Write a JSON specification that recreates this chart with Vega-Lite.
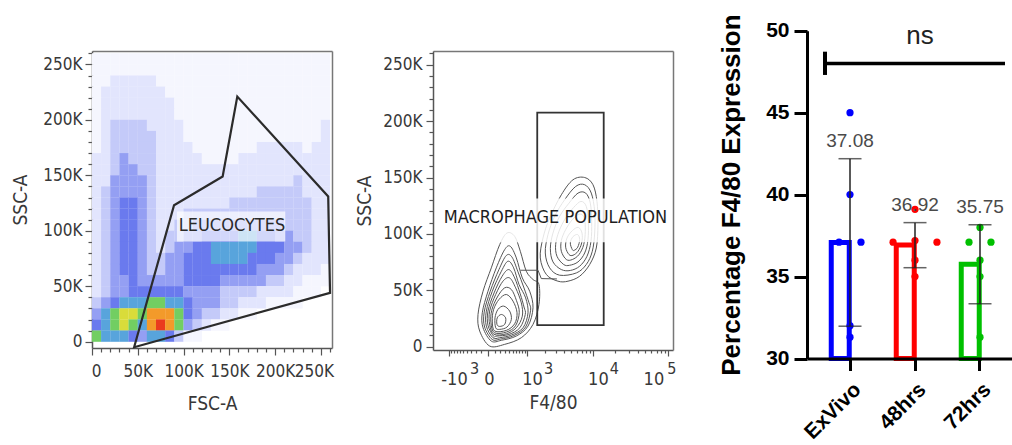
{
"$schema":"https://vega.github.io/schema/vega-lite/v6.json",
"width":1012,"height":445,"autosize":"none","padding":0,"background":"white",
"config":{"view":{"stroke":null},
 "axis":{"grid":false,"labelOverlap":false,"labelFlush":false,"labelBound":false,
  "labelFont":"Liberation Sans Narrow, DejaVu Sans Condensed, Liberation Sans","labelFontSize":17,"labelColor":"#383838",
  "titleFont":"Liberation Sans Narrow, DejaVu Sans Condensed, Liberation Sans","titleFontSize":19,"titleFontWeight":"normal","titleColor":"#383838",
  "domainColor":"#555555","domainWidth":1.5,"tickColor":"#555555","tickWidth":1.2}},
"resolve":{"scale":{"x":"independent","y":"independent","color":"independent"},"axis":{"x":"independent","y":"independent"}},
"layer":[
{
 "resolve":{"axis":{"x":"independent","y":"independent"}},
 "layer":[
  {
   "data":{"values":[
{"fsc":5,"ssc":255,"lvl":1},{"fsc":15,"ssc":255,"lvl":1},{"fsc":25,"ssc":255,"lvl":1},{"fsc":35,"ssc":255,"lvl":1},{"fsc":45,"ssc":255,"lvl":1},{"fsc":55,"ssc":255,"lvl":1},{"fsc":65,"ssc":255,"lvl":1},{"fsc":75,"ssc":255,"lvl":1},{"fsc":85,"ssc":255,"lvl":1},{"fsc":95,"ssc":255,"lvl":1},{"fsc":105,"ssc":255,"lvl":1},{"fsc":115,"ssc":255,"lvl":1},{"fsc":125,"ssc":255,"lvl":1},{"fsc":135,"ssc":255,"lvl":1},{"fsc":145,"ssc":255,"lvl":1},{"fsc":155,"ssc":255,"lvl":1},{"fsc":165,"ssc":255,"lvl":1},{"fsc":175,"ssc":255,"lvl":1},{"fsc":185,"ssc":255,"lvl":1},{"fsc":195,"ssc":255,"lvl":1},{"fsc":205,"ssc":255,"lvl":1},{"fsc":215,"ssc":255,"lvl":1},{"fsc":225,"ssc":255,"lvl":1},{"fsc":235,"ssc":255,"lvl":1},{"fsc":245,"ssc":255,"lvl":1},{"fsc":255,"ssc":255,"lvl":1},
{"fsc":5,"ssc":245,"lvl":1},{"fsc":15,"ssc":245,"lvl":1},{"fsc":25,"ssc":245,"lvl":1},{"fsc":35,"ssc":245,"lvl":1},{"fsc":45,"ssc":245,"lvl":1},{"fsc":55,"ssc":245,"lvl":1},{"fsc":65,"ssc":245,"lvl":1},{"fsc":75,"ssc":245,"lvl":1},{"fsc":85,"ssc":245,"lvl":1},{"fsc":95,"ssc":245,"lvl":1},{"fsc":105,"ssc":245,"lvl":1},{"fsc":115,"ssc":245,"lvl":1},{"fsc":125,"ssc":245,"lvl":1},{"fsc":135,"ssc":245,"lvl":1},{"fsc":145,"ssc":245,"lvl":1},{"fsc":155,"ssc":245,"lvl":1},{"fsc":165,"ssc":245,"lvl":1},{"fsc":175,"ssc":245,"lvl":1},{"fsc":185,"ssc":245,"lvl":1},{"fsc":195,"ssc":245,"lvl":1},{"fsc":205,"ssc":245,"lvl":1},{"fsc":215,"ssc":245,"lvl":1},{"fsc":225,"ssc":245,"lvl":1},{"fsc":235,"ssc":245,"lvl":1},{"fsc":245,"ssc":245,"lvl":1},{"fsc":255,"ssc":245,"lvl":1},
{"fsc":5,"ssc":235,"lvl":1},{"fsc":15,"ssc":235,"lvl":1},{"fsc":25,"ssc":235,"lvl":2},{"fsc":35,"ssc":235,"lvl":2},{"fsc":45,"ssc":235,"lvl":2},{"fsc":55,"ssc":235,"lvl":2},{"fsc":65,"ssc":235,"lvl":2},{"fsc":75,"ssc":235,"lvl":1},{"fsc":85,"ssc":235,"lvl":1},{"fsc":95,"ssc":235,"lvl":1},{"fsc":105,"ssc":235,"lvl":1},{"fsc":115,"ssc":235,"lvl":1},{"fsc":125,"ssc":235,"lvl":1},{"fsc":135,"ssc":235,"lvl":1},{"fsc":145,"ssc":235,"lvl":1},{"fsc":155,"ssc":235,"lvl":1},{"fsc":165,"ssc":235,"lvl":1},{"fsc":175,"ssc":235,"lvl":1},{"fsc":185,"ssc":235,"lvl":1},{"fsc":195,"ssc":235,"lvl":1},{"fsc":205,"ssc":235,"lvl":1},{"fsc":215,"ssc":235,"lvl":1},{"fsc":225,"ssc":235,"lvl":1},{"fsc":235,"ssc":235,"lvl":1},{"fsc":245,"ssc":235,"lvl":1},{"fsc":255,"ssc":235,"lvl":1},
{"fsc":5,"ssc":225,"lvl":1},{"fsc":15,"ssc":225,"lvl":2},{"fsc":25,"ssc":225,"lvl":2},{"fsc":35,"ssc":225,"lvl":2},{"fsc":45,"ssc":225,"lvl":2},{"fsc":55,"ssc":225,"lvl":2},{"fsc":65,"ssc":225,"lvl":2},{"fsc":75,"ssc":225,"lvl":2},{"fsc":85,"ssc":225,"lvl":1},{"fsc":95,"ssc":225,"lvl":1},{"fsc":105,"ssc":225,"lvl":1},{"fsc":115,"ssc":225,"lvl":1},{"fsc":125,"ssc":225,"lvl":1},{"fsc":135,"ssc":225,"lvl":1},{"fsc":145,"ssc":225,"lvl":1},{"fsc":155,"ssc":225,"lvl":1},{"fsc":165,"ssc":225,"lvl":1},{"fsc":175,"ssc":225,"lvl":1},{"fsc":185,"ssc":225,"lvl":1},{"fsc":195,"ssc":225,"lvl":1},{"fsc":205,"ssc":225,"lvl":1},{"fsc":215,"ssc":225,"lvl":1},{"fsc":225,"ssc":225,"lvl":1},{"fsc":235,"ssc":225,"lvl":1},{"fsc":245,"ssc":225,"lvl":1},{"fsc":255,"ssc":225,"lvl":1},
{"fsc":5,"ssc":215,"lvl":1},{"fsc":15,"ssc":215,"lvl":2},{"fsc":25,"ssc":215,"lvl":2},{"fsc":35,"ssc":215,"lvl":2},{"fsc":45,"ssc":215,"lvl":2},{"fsc":55,"ssc":215,"lvl":2},{"fsc":65,"ssc":215,"lvl":2},{"fsc":75,"ssc":215,"lvl":2},{"fsc":85,"ssc":215,"lvl":2},{"fsc":95,"ssc":215,"lvl":1},{"fsc":105,"ssc":215,"lvl":1},{"fsc":115,"ssc":215,"lvl":1},{"fsc":125,"ssc":215,"lvl":1},{"fsc":135,"ssc":215,"lvl":1},{"fsc":145,"ssc":215,"lvl":1},{"fsc":155,"ssc":215,"lvl":1},{"fsc":165,"ssc":215,"lvl":1},{"fsc":175,"ssc":215,"lvl":1},{"fsc":185,"ssc":215,"lvl":1},{"fsc":195,"ssc":215,"lvl":1},{"fsc":205,"ssc":215,"lvl":1},{"fsc":215,"ssc":215,"lvl":1},{"fsc":225,"ssc":215,"lvl":1},{"fsc":235,"ssc":215,"lvl":1},{"fsc":245,"ssc":215,"lvl":1},{"fsc":255,"ssc":215,"lvl":1},
{"fsc":5,"ssc":205,"lvl":1},{"fsc":15,"ssc":205,"lvl":2},{"fsc":25,"ssc":205,"lvl":2},{"fsc":35,"ssc":205,"lvl":2},{"fsc":45,"ssc":205,"lvl":2},{"fsc":55,"ssc":205,"lvl":2},{"fsc":65,"ssc":205,"lvl":2},{"fsc":75,"ssc":205,"lvl":2},{"fsc":85,"ssc":205,"lvl":2},{"fsc":95,"ssc":205,"lvl":1},{"fsc":105,"ssc":205,"lvl":1},{"fsc":115,"ssc":205,"lvl":1},{"fsc":125,"ssc":205,"lvl":1},{"fsc":135,"ssc":205,"lvl":1},{"fsc":145,"ssc":205,"lvl":1},{"fsc":155,"ssc":205,"lvl":1},{"fsc":165,"ssc":205,"lvl":1},{"fsc":175,"ssc":205,"lvl":1},{"fsc":185,"ssc":205,"lvl":1},{"fsc":195,"ssc":205,"lvl":1},{"fsc":205,"ssc":205,"lvl":1},{"fsc":215,"ssc":205,"lvl":1},{"fsc":225,"ssc":205,"lvl":1},{"fsc":235,"ssc":205,"lvl":1},{"fsc":245,"ssc":205,"lvl":1},{"fsc":255,"ssc":205,"lvl":1},
{"fsc":5,"ssc":195,"lvl":1},{"fsc":15,"ssc":195,"lvl":2},{"fsc":25,"ssc":195,"lvl":3},{"fsc":35,"ssc":195,"lvl":3},{"fsc":45,"ssc":195,"lvl":3},{"fsc":55,"ssc":195,"lvl":3},{"fsc":65,"ssc":195,"lvl":2},{"fsc":75,"ssc":195,"lvl":2},{"fsc":85,"ssc":195,"lvl":2},{"fsc":95,"ssc":195,"lvl":2},{"fsc":105,"ssc":195,"lvl":1},{"fsc":115,"ssc":195,"lvl":1},{"fsc":125,"ssc":195,"lvl":1},{"fsc":135,"ssc":195,"lvl":1},{"fsc":145,"ssc":195,"lvl":1},{"fsc":155,"ssc":195,"lvl":1},{"fsc":165,"ssc":195,"lvl":1},{"fsc":175,"ssc":195,"lvl":1},{"fsc":185,"ssc":195,"lvl":1},{"fsc":195,"ssc":195,"lvl":1},{"fsc":205,"ssc":195,"lvl":1},{"fsc":215,"ssc":195,"lvl":1},{"fsc":225,"ssc":195,"lvl":1},{"fsc":235,"ssc":195,"lvl":1},{"fsc":245,"ssc":195,"lvl":1},{"fsc":255,"ssc":195,"lvl":2},
{"fsc":5,"ssc":185,"lvl":1},{"fsc":15,"ssc":185,"lvl":2},{"fsc":25,"ssc":185,"lvl":3},{"fsc":35,"ssc":185,"lvl":3},{"fsc":45,"ssc":185,"lvl":3},{"fsc":55,"ssc":185,"lvl":3},{"fsc":65,"ssc":185,"lvl":3},{"fsc":75,"ssc":185,"lvl":2},{"fsc":85,"ssc":185,"lvl":2},{"fsc":95,"ssc":185,"lvl":2},{"fsc":105,"ssc":185,"lvl":1},{"fsc":115,"ssc":185,"lvl":1},{"fsc":125,"ssc":185,"lvl":1},{"fsc":135,"ssc":185,"lvl":1},{"fsc":145,"ssc":185,"lvl":1},{"fsc":155,"ssc":185,"lvl":1},{"fsc":165,"ssc":185,"lvl":1},{"fsc":175,"ssc":185,"lvl":1},{"fsc":185,"ssc":185,"lvl":1},{"fsc":195,"ssc":185,"lvl":1},{"fsc":205,"ssc":185,"lvl":1},{"fsc":215,"ssc":185,"lvl":1},{"fsc":225,"ssc":185,"lvl":1},{"fsc":235,"ssc":185,"lvl":1},{"fsc":245,"ssc":185,"lvl":1},{"fsc":255,"ssc":185,"lvl":2},
{"fsc":5,"ssc":175,"lvl":1},{"fsc":15,"ssc":175,"lvl":2},{"fsc":25,"ssc":175,"lvl":3},{"fsc":35,"ssc":175,"lvl":3},{"fsc":45,"ssc":175,"lvl":3},{"fsc":55,"ssc":175,"lvl":3},{"fsc":65,"ssc":175,"lvl":3},{"fsc":75,"ssc":175,"lvl":2},{"fsc":85,"ssc":175,"lvl":2},{"fsc":95,"ssc":175,"lvl":2},{"fsc":105,"ssc":175,"lvl":2},{"fsc":115,"ssc":175,"lvl":1},{"fsc":125,"ssc":175,"lvl":1},{"fsc":135,"ssc":175,"lvl":1},{"fsc":145,"ssc":175,"lvl":1},{"fsc":155,"ssc":175,"lvl":1},{"fsc":165,"ssc":175,"lvl":1},{"fsc":175,"ssc":175,"lvl":1},{"fsc":185,"ssc":175,"lvl":2},{"fsc":195,"ssc":175,"lvl":2},{"fsc":205,"ssc":175,"lvl":2},{"fsc":215,"ssc":175,"lvl":2},{"fsc":225,"ssc":175,"lvl":2},{"fsc":235,"ssc":175,"lvl":1},{"fsc":245,"ssc":175,"lvl":2},{"fsc":255,"ssc":175,"lvl":2},
{"fsc":5,"ssc":165,"lvl":2},{"fsc":15,"ssc":165,"lvl":2},{"fsc":25,"ssc":165,"lvl":3},{"fsc":35,"ssc":165,"lvl":4},{"fsc":45,"ssc":165,"lvl":3},{"fsc":55,"ssc":165,"lvl":3},{"fsc":65,"ssc":165,"lvl":3},{"fsc":75,"ssc":165,"lvl":2},{"fsc":85,"ssc":165,"lvl":2},{"fsc":95,"ssc":165,"lvl":2},{"fsc":105,"ssc":165,"lvl":2},{"fsc":115,"ssc":165,"lvl":2},{"fsc":125,"ssc":165,"lvl":1},{"fsc":135,"ssc":165,"lvl":1},{"fsc":145,"ssc":165,"lvl":1},{"fsc":155,"ssc":165,"lvl":1},{"fsc":165,"ssc":165,"lvl":2},{"fsc":175,"ssc":165,"lvl":2},{"fsc":185,"ssc":165,"lvl":2},{"fsc":195,"ssc":165,"lvl":2},{"fsc":205,"ssc":165,"lvl":2},{"fsc":215,"ssc":165,"lvl":2},{"fsc":225,"ssc":165,"lvl":2},{"fsc":235,"ssc":165,"lvl":2},{"fsc":245,"ssc":165,"lvl":2},{"fsc":255,"ssc":165,"lvl":2},
{"fsc":5,"ssc":155,"lvl":2},{"fsc":15,"ssc":155,"lvl":2},{"fsc":25,"ssc":155,"lvl":3},{"fsc":35,"ssc":155,"lvl":4},{"fsc":45,"ssc":155,"lvl":4},{"fsc":55,"ssc":155,"lvl":3},{"fsc":65,"ssc":155,"lvl":3},{"fsc":75,"ssc":155,"lvl":2},{"fsc":85,"ssc":155,"lvl":2},{"fsc":95,"ssc":155,"lvl":2},{"fsc":105,"ssc":155,"lvl":2},{"fsc":115,"ssc":155,"lvl":2},{"fsc":125,"ssc":155,"lvl":2},{"fsc":135,"ssc":155,"lvl":2},{"fsc":145,"ssc":155,"lvl":2},{"fsc":155,"ssc":155,"lvl":2},{"fsc":165,"ssc":155,"lvl":2},{"fsc":175,"ssc":155,"lvl":2},{"fsc":185,"ssc":155,"lvl":2},{"fsc":195,"ssc":155,"lvl":2},{"fsc":205,"ssc":155,"lvl":2},{"fsc":215,"ssc":155,"lvl":2},{"fsc":225,"ssc":155,"lvl":2},{"fsc":235,"ssc":155,"lvl":2},{"fsc":245,"ssc":155,"lvl":2},{"fsc":255,"ssc":155,"lvl":2},
{"fsc":5,"ssc":145,"lvl":2},{"fsc":15,"ssc":145,"lvl":2},{"fsc":25,"ssc":145,"lvl":4},{"fsc":35,"ssc":145,"lvl":4},{"fsc":45,"ssc":145,"lvl":4},{"fsc":55,"ssc":145,"lvl":4},{"fsc":65,"ssc":145,"lvl":3},{"fsc":75,"ssc":145,"lvl":2},{"fsc":85,"ssc":145,"lvl":2},{"fsc":95,"ssc":145,"lvl":2},{"fsc":105,"ssc":145,"lvl":2},{"fsc":115,"ssc":145,"lvl":2},{"fsc":125,"ssc":145,"lvl":2},{"fsc":135,"ssc":145,"lvl":2},{"fsc":145,"ssc":145,"lvl":2},{"fsc":155,"ssc":145,"lvl":2},{"fsc":165,"ssc":145,"lvl":2},{"fsc":175,"ssc":145,"lvl":2},{"fsc":185,"ssc":145,"lvl":2},{"fsc":195,"ssc":145,"lvl":2},{"fsc":205,"ssc":145,"lvl":2},{"fsc":215,"ssc":145,"lvl":2},{"fsc":225,"ssc":145,"lvl":3},{"fsc":235,"ssc":145,"lvl":2},{"fsc":245,"ssc":145,"lvl":2},{"fsc":255,"ssc":145,"lvl":2},
{"fsc":5,"ssc":135,"lvl":2},{"fsc":15,"ssc":135,"lvl":3},{"fsc":25,"ssc":135,"lvl":4},{"fsc":35,"ssc":135,"lvl":4},{"fsc":45,"ssc":135,"lvl":4},{"fsc":55,"ssc":135,"lvl":4},{"fsc":65,"ssc":135,"lvl":3},{"fsc":75,"ssc":135,"lvl":2},{"fsc":85,"ssc":135,"lvl":2},{"fsc":95,"ssc":135,"lvl":2},{"fsc":105,"ssc":135,"lvl":2},{"fsc":115,"ssc":135,"lvl":2},{"fsc":125,"ssc":135,"lvl":2},{"fsc":135,"ssc":135,"lvl":2},{"fsc":145,"ssc":135,"lvl":2},{"fsc":155,"ssc":135,"lvl":2},{"fsc":165,"ssc":135,"lvl":2},{"fsc":175,"ssc":135,"lvl":2},{"fsc":185,"ssc":135,"lvl":3},{"fsc":195,"ssc":135,"lvl":3},{"fsc":205,"ssc":135,"lvl":3},{"fsc":215,"ssc":135,"lvl":3},{"fsc":225,"ssc":135,"lvl":3},{"fsc":235,"ssc":135,"lvl":2},{"fsc":245,"ssc":135,"lvl":2},{"fsc":255,"ssc":135,"lvl":2},
{"fsc":5,"ssc":125,"lvl":2},{"fsc":15,"ssc":125,"lvl":3},{"fsc":25,"ssc":125,"lvl":4},{"fsc":35,"ssc":125,"lvl":5},{"fsc":45,"ssc":125,"lvl":5},{"fsc":55,"ssc":125,"lvl":4},{"fsc":65,"ssc":125,"lvl":3},{"fsc":75,"ssc":125,"lvl":2},{"fsc":85,"ssc":125,"lvl":2},{"fsc":95,"ssc":125,"lvl":2},{"fsc":105,"ssc":125,"lvl":2},{"fsc":115,"ssc":125,"lvl":2},{"fsc":125,"ssc":125,"lvl":2},{"fsc":135,"ssc":125,"lvl":2},{"fsc":145,"ssc":125,"lvl":2},{"fsc":155,"ssc":125,"lvl":3},{"fsc":165,"ssc":125,"lvl":3},{"fsc":175,"ssc":125,"lvl":3},{"fsc":185,"ssc":125,"lvl":3},{"fsc":195,"ssc":125,"lvl":3},{"fsc":205,"ssc":125,"lvl":3},{"fsc":215,"ssc":125,"lvl":3},{"fsc":225,"ssc":125,"lvl":3},{"fsc":235,"ssc":125,"lvl":3},{"fsc":245,"ssc":125,"lvl":2},{"fsc":255,"ssc":125,"lvl":2},
{"fsc":5,"ssc":115,"lvl":2},{"fsc":15,"ssc":115,"lvl":3},{"fsc":25,"ssc":115,"lvl":4},{"fsc":35,"ssc":115,"lvl":5},{"fsc":45,"ssc":115,"lvl":5},{"fsc":55,"ssc":115,"lvl":4},{"fsc":65,"ssc":115,"lvl":3},{"fsc":75,"ssc":115,"lvl":2},{"fsc":85,"ssc":115,"lvl":2},{"fsc":95,"ssc":115,"lvl":2},{"fsc":105,"ssc":115,"lvl":3},{"fsc":115,"ssc":115,"lvl":3},{"fsc":125,"ssc":115,"lvl":3},{"fsc":135,"ssc":115,"lvl":3},{"fsc":145,"ssc":115,"lvl":3},{"fsc":155,"ssc":115,"lvl":3},{"fsc":165,"ssc":115,"lvl":3},{"fsc":175,"ssc":115,"lvl":3},{"fsc":185,"ssc":115,"lvl":3},{"fsc":195,"ssc":115,"lvl":3},{"fsc":205,"ssc":115,"lvl":3},{"fsc":215,"ssc":115,"lvl":3},{"fsc":225,"ssc":115,"lvl":3},{"fsc":235,"ssc":115,"lvl":3},{"fsc":245,"ssc":115,"lvl":2},{"fsc":255,"ssc":115,"lvl":2},
{"fsc":5,"ssc":105,"lvl":2},{"fsc":15,"ssc":105,"lvl":3},{"fsc":25,"ssc":105,"lvl":4},{"fsc":35,"ssc":105,"lvl":5},{"fsc":45,"ssc":105,"lvl":5},{"fsc":55,"ssc":105,"lvl":4},{"fsc":65,"ssc":105,"lvl":3},{"fsc":75,"ssc":105,"lvl":2},{"fsc":85,"ssc":105,"lvl":2},{"fsc":95,"ssc":105,"lvl":3},{"fsc":105,"ssc":105,"lvl":3},{"fsc":115,"ssc":105,"lvl":4},{"fsc":125,"ssc":105,"lvl":4},{"fsc":135,"ssc":105,"lvl":4},{"fsc":145,"ssc":105,"lvl":4},{"fsc":155,"ssc":105,"lvl":4},{"fsc":165,"ssc":105,"lvl":4},{"fsc":175,"ssc":105,"lvl":4},{"fsc":185,"ssc":105,"lvl":4},{"fsc":195,"ssc":105,"lvl":4},{"fsc":205,"ssc":105,"lvl":4},{"fsc":215,"ssc":105,"lvl":3},{"fsc":225,"ssc":105,"lvl":3},{"fsc":235,"ssc":105,"lvl":3},{"fsc":245,"ssc":105,"lvl":2},{"fsc":255,"ssc":105,"lvl":2},
{"fsc":5,"ssc":95,"lvl":2},{"fsc":15,"ssc":95,"lvl":3},{"fsc":25,"ssc":95,"lvl":4},{"fsc":35,"ssc":95,"lvl":5},{"fsc":45,"ssc":95,"lvl":5},{"fsc":55,"ssc":95,"lvl":4},{"fsc":65,"ssc":95,"lvl":3},{"fsc":75,"ssc":95,"lvl":2},{"fsc":85,"ssc":95,"lvl":3},{"fsc":95,"ssc":95,"lvl":3},{"fsc":105,"ssc":95,"lvl":4},{"fsc":115,"ssc":95,"lvl":4},{"fsc":125,"ssc":95,"lvl":5},{"fsc":135,"ssc":95,"lvl":5},{"fsc":145,"ssc":95,"lvl":5},{"fsc":155,"ssc":95,"lvl":5},{"fsc":165,"ssc":95,"lvl":6},{"fsc":175,"ssc":95,"lvl":6},{"fsc":185,"ssc":95,"lvl":5},{"fsc":195,"ssc":95,"lvl":5},{"fsc":205,"ssc":95,"lvl":4},{"fsc":215,"ssc":95,"lvl":4},{"fsc":225,"ssc":95,"lvl":3},{"fsc":235,"ssc":95,"lvl":3},{"fsc":245,"ssc":95,"lvl":2},{"fsc":255,"ssc":95,"lvl":2},
{"fsc":5,"ssc":85,"lvl":2},{"fsc":15,"ssc":85,"lvl":3},{"fsc":25,"ssc":85,"lvl":4},{"fsc":35,"ssc":85,"lvl":5},{"fsc":45,"ssc":85,"lvl":5},{"fsc":55,"ssc":85,"lvl":4},{"fsc":65,"ssc":85,"lvl":3},{"fsc":75,"ssc":85,"lvl":2},{"fsc":85,"ssc":85,"lvl":3},{"fsc":95,"ssc":85,"lvl":4},{"fsc":105,"ssc":85,"lvl":4},{"fsc":115,"ssc":85,"lvl":5},{"fsc":125,"ssc":85,"lvl":5},{"fsc":135,"ssc":85,"lvl":6},{"fsc":145,"ssc":85,"lvl":6},{"fsc":155,"ssc":85,"lvl":6},{"fsc":165,"ssc":85,"lvl":6},{"fsc":175,"ssc":85,"lvl":6},{"fsc":185,"ssc":85,"lvl":5},{"fsc":195,"ssc":85,"lvl":5},{"fsc":205,"ssc":85,"lvl":5},{"fsc":215,"ssc":85,"lvl":4},{"fsc":225,"ssc":85,"lvl":4},{"fsc":235,"ssc":85,"lvl":3},{"fsc":245,"ssc":85,"lvl":2},{"fsc":255,"ssc":85,"lvl":2},
{"fsc":5,"ssc":75,"lvl":2},{"fsc":15,"ssc":75,"lvl":3},{"fsc":25,"ssc":75,"lvl":4},{"fsc":35,"ssc":75,"lvl":5},{"fsc":45,"ssc":75,"lvl":5},{"fsc":55,"ssc":75,"lvl":4},{"fsc":65,"ssc":75,"lvl":3},{"fsc":75,"ssc":75,"lvl":3},{"fsc":85,"ssc":75,"lvl":4},{"fsc":95,"ssc":75,"lvl":4},{"fsc":105,"ssc":75,"lvl":5},{"fsc":115,"ssc":75,"lvl":5},{"fsc":125,"ssc":75,"lvl":5},{"fsc":135,"ssc":75,"lvl":6},{"fsc":145,"ssc":75,"lvl":6},{"fsc":155,"ssc":75,"lvl":6},{"fsc":165,"ssc":75,"lvl":6},{"fsc":175,"ssc":75,"lvl":5},{"fsc":185,"ssc":75,"lvl":5},{"fsc":195,"ssc":75,"lvl":5},{"fsc":205,"ssc":75,"lvl":4},{"fsc":215,"ssc":75,"lvl":4},{"fsc":225,"ssc":75,"lvl":3},{"fsc":235,"ssc":75,"lvl":2},{"fsc":245,"ssc":75,"lvl":2},{"fsc":255,"ssc":75,"lvl":2},
{"fsc":5,"ssc":65,"lvl":2},{"fsc":15,"ssc":65,"lvl":3},{"fsc":25,"ssc":65,"lvl":4},{"fsc":35,"ssc":65,"lvl":5},{"fsc":45,"ssc":65,"lvl":5},{"fsc":55,"ssc":65,"lvl":4},{"fsc":65,"ssc":65,"lvl":3},{"fsc":75,"ssc":65,"lvl":3},{"fsc":85,"ssc":65,"lvl":4},{"fsc":95,"ssc":65,"lvl":4},{"fsc":105,"ssc":65,"lvl":5},{"fsc":115,"ssc":65,"lvl":5},{"fsc":125,"ssc":65,"lvl":5},{"fsc":135,"ssc":65,"lvl":5},{"fsc":145,"ssc":65,"lvl":5},{"fsc":155,"ssc":65,"lvl":5},{"fsc":165,"ssc":65,"lvl":5},{"fsc":175,"ssc":65,"lvl":5},{"fsc":185,"ssc":65,"lvl":4},{"fsc":195,"ssc":65,"lvl":4},{"fsc":205,"ssc":65,"lvl":4},{"fsc":215,"ssc":65,"lvl":3},{"fsc":225,"ssc":65,"lvl":2},{"fsc":235,"ssc":65,"lvl":2},{"fsc":245,"ssc":65,"lvl":2},{"fsc":255,"ssc":65,"lvl":1},
{"fsc":5,"ssc":55,"lvl":2},{"fsc":15,"ssc":55,"lvl":3},{"fsc":25,"ssc":55,"lvl":4},{"fsc":35,"ssc":55,"lvl":4},{"fsc":45,"ssc":55,"lvl":5},{"fsc":55,"ssc":55,"lvl":4},{"fsc":65,"ssc":55,"lvl":4},{"fsc":75,"ssc":55,"lvl":4},{"fsc":85,"ssc":55,"lvl":4},{"fsc":95,"ssc":55,"lvl":4},{"fsc":105,"ssc":55,"lvl":5},{"fsc":115,"ssc":55,"lvl":5},{"fsc":125,"ssc":55,"lvl":5},{"fsc":135,"ssc":55,"lvl":5},{"fsc":145,"ssc":55,"lvl":4},{"fsc":155,"ssc":55,"lvl":4},{"fsc":165,"ssc":55,"lvl":4},{"fsc":175,"ssc":55,"lvl":4},{"fsc":185,"ssc":55,"lvl":4},{"fsc":195,"ssc":55,"lvl":3},{"fsc":205,"ssc":55,"lvl":3},{"fsc":215,"ssc":55,"lvl":2},{"fsc":225,"ssc":55,"lvl":2},{"fsc":235,"ssc":55,"lvl":1},{"fsc":245,"ssc":55,"lvl":1},{"fsc":255,"ssc":55,"lvl":1},
{"fsc":5,"ssc":45,"lvl":2},{"fsc":15,"ssc":45,"lvl":3},{"fsc":25,"ssc":45,"lvl":4},{"fsc":35,"ssc":45,"lvl":4},{"fsc":45,"ssc":45,"lvl":5},{"fsc":55,"ssc":45,"lvl":5},{"fsc":65,"ssc":45,"lvl":5},{"fsc":75,"ssc":45,"lvl":5},{"fsc":85,"ssc":45,"lvl":5},{"fsc":95,"ssc":45,"lvl":5},{"fsc":105,"ssc":45,"lvl":4},{"fsc":115,"ssc":45,"lvl":4},{"fsc":125,"ssc":45,"lvl":4},{"fsc":135,"ssc":45,"lvl":4},{"fsc":145,"ssc":45,"lvl":3},{"fsc":155,"ssc":45,"lvl":3},{"fsc":165,"ssc":45,"lvl":3},{"fsc":175,"ssc":45,"lvl":3},{"fsc":185,"ssc":45,"lvl":2},{"fsc":195,"ssc":45,"lvl":2},{"fsc":205,"ssc":45,"lvl":2},{"fsc":215,"ssc":45,"lvl":2},{"fsc":225,"ssc":45,"lvl":1},{"fsc":235,"ssc":45,"lvl":1},{"fsc":245,"ssc":45,"lvl":1},
{"fsc":5,"ssc":35,"lvl":3},{"fsc":15,"ssc":35,"lvl":4},{"fsc":25,"ssc":35,"lvl":5},{"fsc":35,"ssc":35,"lvl":6},{"fsc":45,"ssc":35,"lvl":6},{"fsc":55,"ssc":35,"lvl":6},{"fsc":65,"ssc":35,"lvl":7},{"fsc":75,"ssc":35,"lvl":7},{"fsc":85,"ssc":35,"lvl":6},{"fsc":95,"ssc":35,"lvl":6},{"fsc":105,"ssc":35,"lvl":5},{"fsc":115,"ssc":35,"lvl":4},{"fsc":125,"ssc":35,"lvl":4},{"fsc":135,"ssc":35,"lvl":4},{"fsc":145,"ssc":35,"lvl":3},{"fsc":155,"ssc":35,"lvl":3},{"fsc":165,"ssc":35,"lvl":2},{"fsc":175,"ssc":35,"lvl":2},{"fsc":185,"ssc":35,"lvl":2},{"fsc":195,"ssc":35,"lvl":1},{"fsc":205,"ssc":35,"lvl":1},{"fsc":215,"ssc":35,"lvl":1},{"fsc":225,"ssc":35,"lvl":1},
{"fsc":5,"ssc":25,"lvl":4},{"fsc":15,"ssc":25,"lvl":6},{"fsc":25,"ssc":25,"lvl":7},{"fsc":35,"ssc":25,"lvl":8},{"fsc":45,"ssc":25,"lvl":8},{"fsc":55,"ssc":25,"lvl":7},{"fsc":65,"ssc":25,"lvl":9},{"fsc":75,"ssc":25,"lvl":9},{"fsc":85,"ssc":25,"lvl":9},{"fsc":95,"ssc":25,"lvl":7},{"fsc":105,"ssc":25,"lvl":5},{"fsc":115,"ssc":25,"lvl":4},{"fsc":125,"ssc":25,"lvl":3},{"fsc":135,"ssc":25,"lvl":3},{"fsc":145,"ssc":25,"lvl":2},{"fsc":155,"ssc":25,"lvl":2},{"fsc":165,"ssc":25,"lvl":1},{"fsc":175,"ssc":25,"lvl":1},
{"fsc":5,"ssc":15,"lvl":5},{"fsc":15,"ssc":15,"lvl":6},{"fsc":25,"ssc":15,"lvl":7},{"fsc":35,"ssc":15,"lvl":8},{"fsc":45,"ssc":15,"lvl":7},{"fsc":55,"ssc":15,"lvl":6},{"fsc":65,"ssc":15,"lvl":9},{"fsc":75,"ssc":15,"lvl":10},{"fsc":85,"ssc":15,"lvl":9},{"fsc":95,"ssc":15,"lvl":7},{"fsc":105,"ssc":15,"lvl":4},{"fsc":115,"ssc":15,"lvl":3},{"fsc":125,"ssc":15,"lvl":2},{"fsc":135,"ssc":15,"lvl":1},{"fsc":145,"ssc":15,"lvl":1},
{"fsc":5,"ssc":5,"lvl":7},{"fsc":15,"ssc":5,"lvl":6},{"fsc":25,"ssc":5,"lvl":6},{"fsc":35,"ssc":5,"lvl":6},{"fsc":45,"ssc":5,"lvl":5},{"fsc":55,"ssc":5,"lvl":4},{"fsc":65,"ssc":5,"lvl":6},{"fsc":75,"ssc":5,"lvl":6},{"fsc":85,"ssc":5,"lvl":5},{"fsc":95,"ssc":5,"lvl":3},{"fsc":105,"ssc":5,"lvl":1},{"fsc":115,"ssc":5,"lvl":1}
   ]},
   "mark":{"type":"point","filled":true,"opacity":1,"strokeWidth":0,"size":87,"shape":"M-1,-1.214H1V1.214H-1Z"},
   "encoding":{
    "x":{"field":"fsc","type":"quantitative","scale":{"domain":[0,262.144],"range":[92,332],"nice":false,"zero":false},
      "axis":{"orient":"bottom","offset":-97,"values":[0,50,100,150,200,250],"tickSize":7,"labelPadding":8,"labelExpr":"datum.value == 0 ? '0' : datum.value + 'K'","labelOffset":{"condition":[{"test":"datum.value == 250","value":-7},{"test":"datum.value == 0","value":4}],"value":0},"title":"FSC-A","titlePadding":15}},
    "y":{"field":"ssc","type":"quantitative","scale":{"domain":[-5.7,262.144],"range":[348,51],"nice":false,"zero":false},
      "axis":{"orient":"left","offset":-92,"values":[0,50,100,150,200,250],"tickSize":7,"labelPadding":3,"labelExpr":"datum.value == 0 ? '0' : datum.value + 'K'","title":"SSC-A","titlePadding":12}},
    "color":{"field":"lvl","type":"ordinal","scale":{"domain":[1,2,3,4,5,6,7,8,9,10],"range":["#f5f6fe","#e2e5fd","#c4caf9","#949ff3","#6a7aee","#58a4dc","#72ce62","#d9dc3a","#f39a2a","#ea3b1e"]},"legend":null}
   }
  },
  {
   "data":{"values":[{"vertex":0,"fsc":46,"ssc":-5},{"vertex":1,"fsc":89.6,"ssc":123},{"vertex":2,"fsc":142.7,"ssc":149},{"vertex":3,"fsc":158.7,"ssc":221},{"vertex":4,"fsc":258,"ssc":131},{"vertex":5,"fsc":260,"ssc":44}]},
   "mark":{"type":"line","interpolate":"linear-closed","color":"#2b2b2b","strokeWidth":2.2},
   "encoding":{
    "x":{"field":"fsc","type":"quantitative","axis":{"orient":"bottom","offset":-97,"values":[10,20,30,40,60,70,80,90,110,120,130,140,160,170,180,190,210,220,230,240,260],"tickSize":4,"labels":false,"domain":false,"title":null}},
    "y":{"field":"ssc","type":"quantitative","axis":{"orient":"left","offset":-92,"values":[10,20,30,40,60,70,80,90,110,120,130,140,160,170,180,190,210,220,230,240,260],"tickSize":4,"labels":false,"domain":false,"title":null}},
    "order":{"field":"vertex"}
   }
  },
  {
   "data":{"values":[{}]},
   "mark":{"type":"rect","fill":"#ffffff","opacity":0.7},
   "encoding":{
    "x":{"datum":92.8,"type":"quantitative","axis":{"orient":"top","offset":-51,"ticks":false,"labels":false,"title":null,"domainColor":"#777777"}},
    "x2":{"datum":211.1},
    "y":{"datum":117.4,"type":"quantitative","axis":{"orient":"right","offset":-680,"ticks":false,"labels":false,"title":null,"domainColor":"#777777"}},
    "y2":{"datum":90.4}
   }
  },
  {
   "data":{"values":[{}]},
   "mark":{"type":"text","text":"LEUCOCYTES","font":"Liberation Sans Narrow, DejaVu Sans Condensed, Liberation Sans","fontSize":18,"color":"#2a2a2a","align":"center","baseline":"middle"},
   "encoding":{
    "x":{"datum":152.9,"type":"quantitative","axis":null},
    "y":{"datum":104.1,"type":"quantitative","axis":null}
   }
  }
 ]
},
{
 "resolve":{"axis":{"x":"independent","y":"independent"}},
 "layer":[
  {
   "data":{"values":[
{"ring":"A1","k":0,"f480":23,"ssc":0.6},{"ring":"A1","k":1,"f480":-127,"ssc":13.9},{"ring":"A1","k":2,"f480":-157,"ssc":28.6},{"ring":"A1","k":3,"f480":-72,"ssc":49.2},{"ring":"A1","k":4,"f480":47,"ssc":69.9},{"ring":"A1","k":5,"f480":189,"ssc":90.5},{"ring":"A1","k":6,"f480":345,"ssc":100.8},{"ring":"A1","k":7,"f480":550,"ssc":97.9},{"ring":"A1","k":8,"f480":736,"ssc":84.6},{"ring":"A1","k":9,"f480":970,"ssc":66.9},{"ring":"A1","k":10,"f480":1285,"ssc":59.6},{"ring":"A1","k":11,"f480":1626,"ssc":55.2},{"ring":"A1","k":12,"f480":1626,"ssc":37.5},{"ring":"A1","k":13,"f480":1285,"ssc":19.8},{"ring":"A1","k":14,"f480":772,"ssc":8.0},{"ring":"A1","k":15,"f480":292,"ssc":2.1},
{"ring":"A2","k":0,"f480":47,"ssc":5.0},{"ring":"A2","k":1,"f480":-72,"ssc":16.8},{"ring":"A2","k":2,"f480":-84,"ssc":30.1},{"ring":"A2","k":3,"f480":0,"ssc":49.2},{"ring":"A2","k":4,"f480":127,"ssc":69.9},{"ring":"A2","k":5,"f480":292,"ssc":86.1},{"ring":"A2","k":6,"f480":429,"ssc":89.0},{"ring":"A2","k":7,"f480":603,"ssc":78.7},{"ring":"A2","k":8,"f480":809,"ssc":61.0},{"ring":"A2","k":9,"f480":1121,"ssc":49.2},{"ring":"A2","k":10,"f480":1285,"ssc":34.5},{"ring":"A2","k":11,"f480":1044,"ssc":18.3},{"ring":"A2","k":12,"f480":603,"ssc":9.5},{"ring":"A2","k":13,"f480":222,"ssc":5.7},
{"ring":"A2b","k":0,"f480":60,"ssc":6.5},{"ring":"A2b","k":1,"f480":-48,"ssc":17.5},{"ring":"A2b","k":2,"f480":-54,"ssc":30.8},{"ring":"A2b","k":3,"f480":31,"ssc":49.2},{"ring":"A2b","k":4,"f480":175,"ssc":68.4},{"ring":"A2b","k":5,"f480":330,"ssc":80.9},{"ring":"A2b","k":6,"f480":475,"ssc":79.4},{"ring":"A2b","k":7,"f480":647,"ssc":67.0},{"ring":"A2b","k":8,"f480":875,"ssc":52.1},{"ring":"A2b","k":9,"f480":1083,"ssc":39.3},{"ring":"A2b","k":10,"f480":1164,"ssc":32.3},{"ring":"A2b","k":11,"f480":940,"ssc":17.5},{"ring":"A2b","k":12,"f480":530,"ssc":9.9},{"ring":"A2b","k":13,"f480":205,"ssc":6.8},
{"ring":"A3","k":0,"f480":72,"ssc":8.0},{"ring":"A3","k":1,"f480":-23,"ssc":18.3},{"ring":"A3","k":2,"f480":-23,"ssc":31.6},{"ring":"A3","k":3,"f480":62,"ssc":49.2},{"ring":"A3","k":4,"f480":222,"ssc":66.9},{"ring":"A3","k":5,"f480":369,"ssc":75.8},{"ring":"A3","k":6,"f480":521,"ssc":69.9},{"ring":"A3","k":7,"f480":691,"ssc":55.2},{"ring":"A3","k":8,"f480":941,"ssc":43.3},{"ring":"A3","k":9,"f480":1044,"ssc":30.1},{"ring":"A3","k":10,"f480":836,"ssc":16.8},{"ring":"A3","k":11,"f480":456,"ssc":10.3},{"ring":"A3","k":12,"f480":189,"ssc":8.0},
{"ring":"A3b","k":0,"f480":80,"ssc":9.5},{"ring":"A3b","k":1,"f480":0,"ssc":19.0},{"ring":"A3b","k":2,"f480":0,"ssc":31.6},{"ring":"A3b","k":3,"f480":90,"ssc":47.7},{"ring":"A3b","k":4,"f480":238,"ssc":62.5},{"ring":"A3b","k":5,"f480":390,"ssc":68.4},{"ring":"A3b","k":6,"f480":551,"ssc":61.0},{"ring":"A3b","k":7,"f480":731,"ssc":47.0},{"ring":"A3b","k":8,"f480":875,"ssc":35.2},{"ring":"A3b","k":9,"f480":926,"ssc":28.6},{"ring":"A3b","k":10,"f480":720,"ssc":16.8},{"ring":"A3b","k":11,"f480":393,"ssc":10.9},{"ring":"A3b","k":12,"f480":139,"ssc":9.5},
{"ring":"A4","k":0,"f480":89,"ssc":11.0},{"ring":"A4","k":1,"f480":23,"ssc":19.8},{"ring":"A4","k":2,"f480":23,"ssc":31.6},{"ring":"A4","k":3,"f480":117,"ssc":46.3},{"ring":"A4","k":4,"f480":255,"ssc":58.1},{"ring":"A4","k":5,"f480":411,"ssc":61.0},{"ring":"A4","k":6,"f480":581,"ssc":52.2},{"ring":"A4","k":7,"f480":772,"ssc":38.9},{"ring":"A4","k":8,"f480":809,"ssc":27.1},{"ring":"A4","k":9,"f480":603,"ssc":16.8},{"ring":"A4","k":10,"f480":330,"ssc":11.5},
{"ring":"A4b","k":0,"f480":95,"ssc":12.4},{"ring":"A4b","k":1,"f480":42,"ssc":21.2},{"ring":"A4b","k":2,"f480":53,"ssc":32.3},{"ring":"A4b","k":3,"f480":146,"ssc":44.1},{"ring":"A4b","k":4,"f480":292,"ssc":52.2},{"ring":"A4b","k":5,"f480":457,"ssc":50.7},{"ring":"A4b","k":6,"f480":603,"ssc":41.2},{"ring":"A4b","k":7,"f480":699,"ssc":30.5},{"ring":"A4b","k":8,"f480":576,"ssc":18.5},{"ring":"A4b","k":9,"f480":330,"ssc":13.0},
{"ring":"A5","k":0,"f480":100,"ssc":13.9},{"ring":"A5","k":1,"f480":62,"ssc":22.7},{"ring":"A5","k":2,"f480":83,"ssc":33.1},{"ring":"A5","k":3,"f480":176,"ssc":41.9},{"ring":"A5","k":4,"f480":330,"ssc":46.3},{"ring":"A5","k":5,"f480":503,"ssc":40.4},{"ring":"A5","k":6,"f480":625,"ssc":30.1},{"ring":"A5","k":7,"f480":550,"ssc":20.3},{"ring":"A5","k":8,"f480":330,"ssc":14.5},
{"ring":"A6","k":0,"f480":117,"ssc":16.8},{"ring":"A6","k":1,"f480":105,"ssc":25.6},{"ring":"A6","k":2,"f480":157,"ssc":33.1},{"ring":"A6","k":3,"f480":270,"ssc":36.0},{"ring":"A6","k":4,"f480":411,"ssc":31.6},{"ring":"A6","k":5,"f480":456,"ssc":24.2},{"ring":"A6","k":6,"f480":345,"ssc":17.4},{"ring":"A6","k":7,"f480":189,"ssc":15.4},
{"ring":"A7","k":0,"f480":139,"ssc":19.8},{"ring":"A7","k":1,"f480":144,"ssc":25.6},{"ring":"A7","k":2,"f480":222,"ssc":28.6},{"ring":"A7","k":3,"f480":314,"ssc":25.6},{"ring":"A7","k":4,"f480":292,"ssc":19.8},{"ring":"A7","k":5,"f480":189,"ssc":18.0},
{"ring":"B1","k":0,"f480":3216,"ssc":58.1},{"ring":"B1","k":1,"f480":2139,"ssc":64.0},{"ring":"B1","k":2,"f480":1709,"ssc":78.7},{"ring":"B1","k":3,"f480":1890,"ssc":96.4},{"ring":"B1","k":4,"f480":2409,"ssc":114.1},{"ring":"B1","k":5,"f480":3607,"ssc":134.7},{"ring":"B1","k":6,"f480":5306,"ssc":148.0},{"ring":"B1","k":7,"f480":7722,"ssc":150.0},{"ring":"B1","k":8,"f480":10027,"ssc":143.6},{"ring":"B1","k":9,"f480":11358,"ssc":128.8},{"ring":"B1","k":10,"f480":11717,"ssc":108.2},{"ring":"B1","k":11,"f480":11116,"ssc":87.5},{"ring":"B1","k":12,"f480":9040,"ssc":72.9},{"ring":"B1","k":13,"f480":6583,"ssc":62.5},{"ring":"B1","k":14,"f480":4504,"ssc":58.1},
{"ring":"B2","k":0,"f480":3407,"ssc":63.4},{"ring":"B2","k":1,"f480":2409,"ssc":69.9},{"ring":"B2","k":2,"f480":2057,"ssc":83.1},{"ring":"B2","k":3,"f480":2268,"ssc":99.4},{"ring":"B2","k":4,"f480":2871,"ssc":115.6},{"ring":"B2","k":5,"f480":4029,"ssc":130.3},{"ring":"B2","k":6,"f480":5790,"ssc":142.1},{"ring":"B2","k":7,"f480":7722,"ssc":143.6},{"ring":"B2","k":8,"f480":9509,"ssc":136.2},{"ring":"B2","k":9,"f480":10572,"ssc":120.0},{"ring":"B2","k":10,"f480":10572,"ssc":100.8},{"ring":"B2","k":11,"f480":9812,"ssc":84.6},{"ring":"B2","k":12,"f480":8123,"ssc":72.9},{"ring":"B2","k":13,"f480":5908,"ssc":65.4},
{"ring":"B3","k":0,"f480":3607,"ssc":68.4},{"ring":"B3","k":1,"f480":2707,"ssc":75.2},{"ring":"B3","k":2,"f480":2469,"ssc":87.0},{"ring":"B3","k":3,"f480":2707,"ssc":100.8},{"ring":"B3","k":4,"f480":3407,"ssc":115.6},{"ring":"B3","k":5,"f480":4657,"ssc":127.3},{"ring":"B3","k":6,"f480":6237,"ssc":136.2},{"ring":"B3","k":7,"f480":7969,"ssc":136.2},{"ring":"B3","k":8,"f480":9217,"ssc":127.3},{"ring":"B3","k":9,"f480":9625,"ssc":111.1},{"ring":"B3","k":10,"f480":9419,"ssc":93.5},{"ring":"B3","k":11,"f480":8303,"ssc":80.2},{"ring":"B3","k":12,"f480":6583,"ssc":71.4},{"ring":"B3","k":13,"f480":4860,"ssc":67.6},
{"ring":"B4","k":0,"f480":3897,"ssc":72.9},{"ring":"B4","k":1,"f480":3108,"ssc":80.2},{"ring":"B4","k":2,"f480":2971,"ssc":90.5},{"ring":"B4","k":3,"f480":3328,"ssc":102.3},{"ring":"B4","k":4,"f480":4167,"ssc":114.1},{"ring":"B4","k":5,"f480":5427,"ssc":123.5},{"ring":"B4","k":6,"f480":6866,"ssc":128.8},{"ring":"B4","k":7,"f480":8123,"ssc":124.4},{"ring":"B4","k":8,"f480":8653,"ssc":111.1},{"ring":"B4","k":9,"f480":8568,"ssc":94.9},{"ring":"B4","k":10,"f480":7722,"ssc":83.1},{"ring":"B4","k":11,"f480":6237,"ssc":75.2},{"ring":"B4","k":12,"f480":4752,"ssc":72.2},
{"ring":"B5","k":0,"f480":4262,"ssc":77.3},{"ring":"B5","k":1,"f480":3607,"ssc":84.6},{"ring":"B5","k":2,"f480":3607,"ssc":94.1},{"ring":"B5","k":3,"f480":4167,"ssc":103.8},{"ring":"B5","k":4,"f480":5189,"ssc":112.6},{"ring":"B5","k":5,"f480":6583,"ssc":117.6},{"ring":"B5","k":6,"f480":7627,"ssc":114.1},{"ring":"B5","k":7,"f480":7870,"ssc":102.3},{"ring":"B5","k":8,"f480":7479,"ssc":90.5},{"ring":"B5","k":9,"f480":6440,"ssc":81.7},{"ring":"B5","k":10,"f480":5189,"ssc":77.3},
{"ring":"B6","k":0,"f480":4657,"ssc":81.7},{"ring":"B6","k":1,"f480":4167,"ssc":88.2},{"ring":"B6","k":2,"f480":4360,"ssc":96.4},{"ring":"B6","k":3,"f480":5189,"ssc":102.9},{"ring":"B6","k":4,"f480":6300,"ssc":105.8},{"ring":"B6","k":5,"f480":7088,"ssc":100.8},{"ring":"B6","k":6,"f480":7020,"ssc":92.0},{"ring":"B6","k":7,"f480":6237,"ssc":84.6},{"ring":"B6","k":8,"f480":5306,"ssc":81.1},
{"ring":"B7","k":0,"f480":5189,"ssc":86.1},{"ring":"B7","k":1,"f480":4860,"ssc":92.0},{"ring":"B7","k":2,"f480":5306,"ssc":97.6},{"ring":"B7","k":3,"f480":6175,"ssc":99.4},{"ring":"B7","k":4,"f480":6583,"ssc":94.9},{"ring":"B7","k":5,"f480":6175,"ssc":88.2},{"ring":"B7","k":6,"f480":5535,"ssc":85.5}
   ]},
   "mark":{"type":"line","interpolate":"cardinal-closed","color":"#555555","strokeWidth":1},
   "encoding":{
    "x":{"field":"f480","type":"quantitative","scale":{"type":"symlog","constant":450,"domain":[-1890,114900],"range":[433,673],"nice":false,"zero":false},
      "axis":{"orient":"bottom","offset":-95,"values":[-1000,0,1000,10000,100000],"tickSize":6,"labelPadding":14,"labelFontSize":18,"labelExpr":"datum.value == 0 ? '0' : (datum.value < 0 ? '-10' : '10')","labelOffset":{"condition":[{"test":"datum.value > 50000","value":-15},{"test":"datum.value == 0","value":1}],"value":5},"title":"F4/80","titlePadding":5}},
    "y":{"field":"ssc","type":"quantitative","scale":{"domain":[-2.9,262.144],"range":[350,51],"nice":false,"zero":false},
      "axis":{"orient":"left","offset":-433,"values":[0,50,100,150,200,250],"tickSize":7,"labelPadding":4,"labelExpr":"datum.value == 0 ? '0' : datum.value + 'K'","title":"SSC-A","titlePadding":8}},
    "detail":{"field":"ring","type":"nominal"},
    "order":{"field":"k","type":"quantitative"}
   }
  },
  {
   "data":{"values":[{"f480_lo":1520,"f480_hi":14000,"ssc_lo":19.2,"ssc_hi":207.5}]},
   "mark":{"type":"rect","fill":null,"fillOpacity":0,"stroke":"#333333","strokeWidth":1.8},
   "encoding":{
    "x":{"field":"f480_lo","type":"quantitative","axis":{"orient":"bottom","offset":-95,"values":[-900,-800,-700,-600,-500,-400,-300,-200,-100,100,200,300,400,500,600,700,800,900,2000,3000,4000,5000,6000,7000,8000,9000,20000,30000,40000,50000,60000,70000,80000,90000],"tickSize":3,"labels":false,"domain":false,"title":null}},
    "x2":{"field":"f480_hi"},
    "y":{"field":"ssc_lo","type":"quantitative","axis":{"orient":"left","offset":-433,"values":[10,20,30,40,60,70,80,90,110,120,130,140,160,170,180,190,210,220,230,240,260],"tickSize":4,"labels":false,"domain":false,"title":null}},
    "y2":{"field":"ssc_hi"}
   }
  },
  {
   "data":{"values":[{"step":0,"f480":736,"ssc":67.8},{"step":1,"f480":1565,"ssc":67.8},{"step":2,"f480":1774,"ssc":60.4},{"step":3,"f480":3108,"ssc":60.1}]},
   "mark":{"type":"line","color":"#555555","strokeWidth":1},
   "encoding":{
    "x":{"field":"f480","type":"quantitative","axis":null},
    "y":{"field":"ssc","type":"quantitative","axis":null},
    "order":{"field":"step"}
   }
  },
  {
   "data":{"values":[{}]},
   "mark":{"type":"rect","fill":"#ffffff","opacity":0.85},
   "encoding":{
    "x":{"datum":-1448,"type":"quantitative","axis":{"orient":"bottom","offset":-95,"values":[-1000,1000,10000,100000],"ticks":false,"tickSize":0,"domain":false,"labelPadding":10,"labelFontSize":16,"labelExpr":"datum.value < 5000 ? '3' : (datum.value < 50000 ? '4' : '5')","labelOffset":{"condition":[{"test":"datum.value > 50000","value":3},{"test":"datum.value < 0","value":25}],"value":21},"title":null}},
    "x2":{"datum":108200},
    "y":{"datum":131.5,"type":"quantitative","axis":{"orient":"right","offset":-339,"ticks":false,"labels":false,"title":null,"domainColor":"#777777"}},
    "y2":{"datum":92.6}
   }
  },
  {
   "data":{"values":[{}]},
   "mark":{"type":"text","text":"MACROPHAGE POPULATION","font":"Liberation Sans Narrow, DejaVu Sans Condensed, Liberation Sans","fontSize":18,"color":"#1e1e1e","align":"center","baseline":"middle"},
   "encoding":{
    "x":{"datum":2956,"type":"quantitative","axis":{"orient":"top","offset":-51,"ticks":false,"labels":false,"title":null,"domainColor":"#777777"}},
    "y":{"datum":114.1,"type":"quantitative","axis":null}
   }
  }
 ]
},
{
 "resolve":{"axis":{"x":"independent","y":"independent"}},
 "layer":[
  {
   "data":{"values":[{"group":"ExVivo","mean":37.08,"lo":31.97,"hi":42.19},{"group":"48hrs","mean":36.92,"lo":35.54,"hi":38.29},{"group":"72hrs","mean":35.75,"lo":33.34,"hi":38.16}]},
   "mark":{"type":"bar","fill":"#ffffff","strokeWidth":5,"width":{"band":0.75}},
   "encoding":{
    "x":{"field":"group","type":"nominal","sort":null,"scale":{"type":"band","domain":["ExVivo","48hrs","72hrs"],"range":[807,1023],"paddingInner":0.2308,"paddingOuter":0.277},
      "axis":{"orient":"bottom","offset":-86.5,"title":null,"domainColor":"#000000","domainWidth":3,"tickColor":"#000000","tickWidth":3,"tickSize":12,"labelAngle":-45,"labelFont":"Liberation Sans","labelFontWeight":"bold","labelFontSize":21,"labelColor":"#000000","labelPadding":8,"zindex":1}},
    "y":{"field":"mean","type":"quantitative","scale":{"domain":[30,50],"range":[358.5,30.7],"nice":false,"zero":false},
      "axis":{"orient":"left","offset":-807,"values":[30,35,40,45,50],"title":"Percentage F4/80 Expression","titleFont":"Liberation Sans","titleFontWeight":"bold","titleFontSize":26,"titleColor":"#000000","titlePadding":21,"domainColor":"#000000","domainWidth":3,"tickColor":"#000000","tickWidth":3,"tickSize":13,"labelFont":"Liberation Sans","labelFontWeight":"bold","labelFontSize":21,"labelColor":"#000000","labelPadding":5,"zindex":1}},
    "y2":{"datum":30},
    "stroke":{"field":"group","type":"nominal","scale":{"domain":["ExVivo","48hrs","72hrs"],"range":["#0000ff","#ff0000","#00c000"]},"legend":null}
   }
  },
  {
   "data":{"values":[
{"group":"ExVivo","slot":"C","val":45.0},{"group":"ExVivo","slot":"C","val":40.0},{"group":"ExVivo","slot":"L1","val":37.1},{"group":"ExVivo","slot":"R1","val":37.1},{"group":"ExVivo","slot":"C","val":32.0},{"group":"ExVivo","slot":"C","val":31.3},
{"group":"48hrs","slot":"C","val":39.1},{"group":"48hrs","slot":"L2","val":37.1},{"group":"48hrs","slot":"C","val":37.2},{"group":"48hrs","slot":"R2","val":37.1},{"group":"48hrs","slot":"C","val":36.0},{"group":"48hrs","slot":"C","val":35.0},
{"group":"72hrs","slot":"C","val":38.0},{"group":"72hrs","slot":"L1","val":37.1},{"group":"72hrs","slot":"R1","val":37.1},{"group":"72hrs","slot":"C","val":36.0},{"group":"72hrs","slot":"C","val":35.0},{"group":"72hrs","slot":"C","val":31.3}
   ]},
   "mark":{"type":"circle","size":52,"opacity":1},
   "encoding":{
    "x":{"field":"group","type":"nominal","sort":null,"scale":{"type":"band"},"axis":null},
    "xOffset":{"field":"slot","type":"nominal","scale":{"domain":["L2","L1","C","R1","R2"],"paddingInner":0,"paddingOuter":0.278}},
    "y":{"field":"val","type":"quantitative","axis":null},
    "color":{"field":"group","type":"nominal","scale":{"domain":["ExVivo","48hrs","72hrs"],"range":["#0000ff","#ff0000","#00c000"]},"legend":null}
   }
  },
  {
   "data":{"values":[{"group":"ExVivo","mean":37.08,"lo":31.97,"hi":42.19},{"group":"48hrs","mean":36.92,"lo":35.54,"hi":38.29},{"group":"72hrs","mean":35.75,"lo":33.34,"hi":38.16}]},
   "layer":[
    {"mark":{"type":"rule","color":"#222222","strokeWidth":1.5},
     "encoding":{"x":{"field":"group","type":"nominal","sort":null,"axis":null},"y":{"field":"lo","type":"quantitative","axis":null},"y2":{"field":"hi"}}},
    {"mark":{"type":"tick","color":"#222222","thickness":1.5,"size":23},
     "encoding":{"x":{"field":"group","type":"nominal","sort":null,"axis":null},"y":{"field":"lo","type":"quantitative","axis":null}}},
    {"mark":{"type":"tick","color":"#222222","thickness":1.5,"size":23},
     "encoding":{"x":{"field":"group","type":"nominal","sort":null,"axis":null},"y":{"field":"hi","type":"quantitative","axis":null}}},
    {"mark":{"type":"text","font":"Liberation Sans","fontSize":19,"color":"#4a4a4a","dy":-18,"baseline":"middle","align":"center"},
     "encoding":{"x":{"field":"group","type":"nominal","sort":null,"axis":null},"y":{"field":"hi","type":"quantitative","axis":null},"text":{"field":"mean","type":"quantitative","format":".2f"}}}
   ]
  },
  {
   "data":{"values":[{}]},
   "mark":{"type":"rule","color":"#000000","strokeWidth":3.5},
   "encoding":{
    "x":{"datum":"ExVivo","bandPosition":0,"axis":null},
    "x2":{"datum":"72hrs","bandPosition":1},
    "x2Offset":{"value":12},
    "y":{"datum":48.0,"type":"quantitative","axis":null}
   }
  },
  {
   "data":{"values":[{}]},
   "mark":{"type":"rule","color":"#000000","strokeWidth":4},
   "encoding":{
    "x":{"datum":"ExVivo","bandPosition":0,"axis":null},
    "y":{"datum":47.3,"type":"quantitative","axis":null},
    "y2":{"datum":48.72}
   }
  },
  {
   "data":{"values":[{}]},
   "mark":{"type":"text","text":"ns","font":"Liberation Sans","fontSize":26,"color":"#222222","dx":5,"baseline":"middle","align":"center"},
   "encoding":{
    "x":{"datum":"48hrs","axis":null},
    "y":{"datum":49.65,"type":"quantitative","axis":null}
   }
  }
 ]
}
]
}
